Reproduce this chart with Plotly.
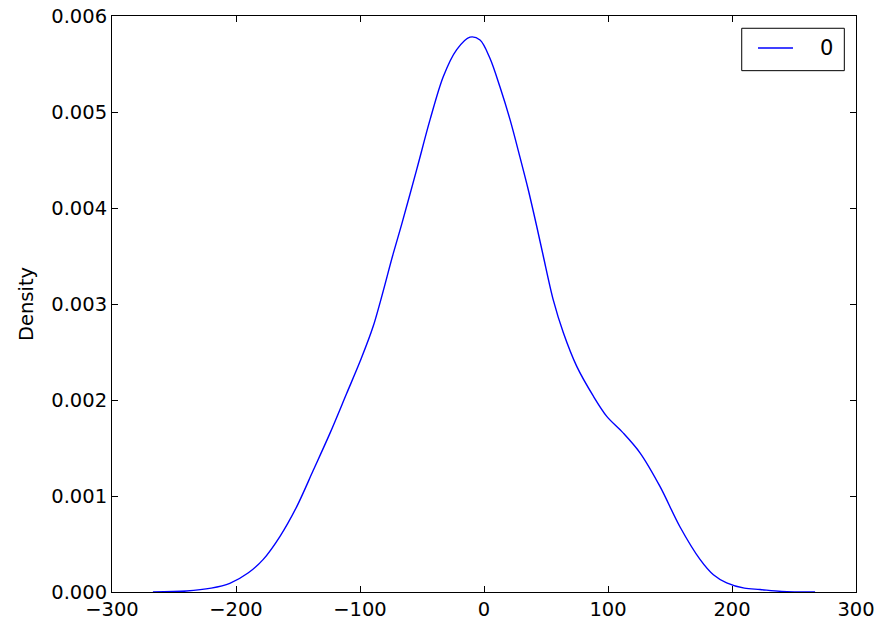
import plotly.graph_objects as go

# KDE curve
x_vals = [-267, -240, -220, -205, -190, -178, -164.5, -151, -137.6, -124, -110.7, -100,
          -89.3, -73.1, -66.4, -54.3, -43.5, -32.8, -22, -11.3, -3.2, 4.8, 12.9, 21, 29,
          35.7, 42.5, 47.8, 55.9, 64, 74.8, 88.2, 99, 112, 125.8, 141.9, 158, 174.2, 185,
          195.7, 210, 222.6, 240, 267]
density = [0.0, 0.00001, 0.00004, 0.00009, 0.0002, 0.00034, 0.00058, 0.00089, 0.00127,
           0.00166, 0.00207, 0.0024, 0.00277, 0.00353, 0.00383, 0.0044, 0.00492, 0.00537,
           0.00565, 0.00578, 0.00575, 0.00556, 0.00526, 0.00492, 0.00453, 0.00419, 0.00381,
           0.0035, 0.00304, 0.0027, 0.00235, 0.00204, 0.00183, 0.00166, 0.00145, 0.0011,
           0.00068, 0.00034, 0.00018, 0.0000955, 0.00004, 0.000026, 0.000006, 0.0]
series_name = "0"

x_ticks = [-300, -200, -100, 0, 100, 200, 300]
x_labels = ["\u2212300", "\u2212200", "\u2212100", "0", "100", "200", "300"]
y_ticks = [0, 0.001, 0.002, 0.003, 0.004, 0.005, 0.006]
y_labels = ["0.000", "0.001", "0.002", "0.003", "0.004", "0.005", "0.006"]

fig = go.Figure()
fig.add_trace(go.Scatter(x=x_vals, y=density, mode="lines", name=series_name,
                         line=dict(color="#0000ff", width=1.4, shape="spline", smoothing=0.9),
                         showlegend=False))

axis_style = dict(showgrid=False, zeroline=False, showline=True, linecolor="black",
                  linewidth=1, mirror="ticks", ticks="inside", ticklen=6,
                  tickcolor="black", tickwidth=1, automargin=False,
                  tickfont=dict(family="DejaVu Sans", size=19.5, color="black"))

fig.update_layout(
    width=885, height=635,
    margin=dict(l=112, r=29, t=16, b=43),
    plot_bgcolor="white", paper_bgcolor="white",
    xaxis=dict(range=[-300, 300], tickvals=x_ticks, ticktext=x_labels, **axis_style),
    yaxis=dict(range=[0, 0.006], tickvals=y_ticks, ticktext=y_labels,
               title=dict(text="Density", standoff=12,
                          font=dict(family="DejaVu Sans", size=19.5, color="black")),
               **axis_style),
)

# legend box drawn in matplotlib style
fig.add_shape(type="rect", xref="paper", yref="paper", x0=0.8464, x1=0.9843,
              y0=0.9051, y1=0.9787, line=dict(color="black", width=1),
              fillcolor="white")
fig.add_shape(type="line", xref="paper", yref="paper", x0=0.8683, x1=0.9153,
              y0=0.9445, y1=0.9445, line=dict(color="#0000ff", width=1.4))
fig.add_annotation(xref="paper", yref="paper", x=0.961, y=0.9445, text=series_name,
                   showarrow=False, xanchor="center", yanchor="middle",
                   font=dict(family="DejaVu Sans", size=21, color="black"))

fig.write_html("out.html", config={"displayModeBar": False},
               post_script="document.body.style.margin='0';")
